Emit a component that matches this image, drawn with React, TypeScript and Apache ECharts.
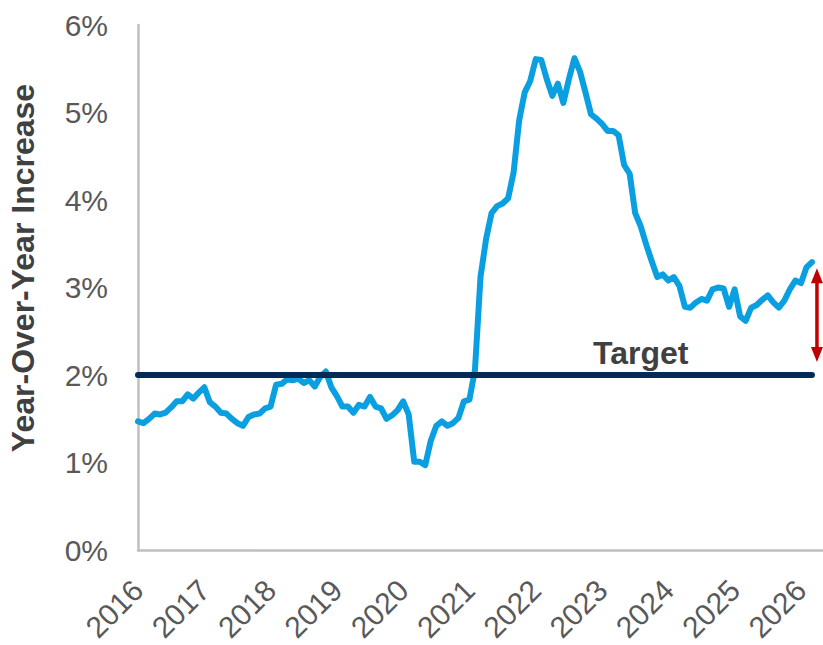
import React, { useEffect, useRef } from "react";
import * as echarts from "echarts";

// Monthly year-over-year increase (%), Jan 2016 onward
const values: number[] = [
  1.47, 1.45, 1.5, 1.56, 1.55, 1.57, 1.63, 1.7, 1.7, 1.78, 1.73, 1.8,
  1.86, 1.69, 1.64, 1.57, 1.56, 1.5, 1.45, 1.42, 1.52, 1.55, 1.56, 1.62,
  1.64, 1.89, 1.9, 1.95, 1.94, 1.96, 1.91, 1.94, 1.87, 1.98, 2.04, 1.86,
  1.76, 1.64, 1.64, 1.57, 1.66, 1.64, 1.75, 1.64, 1.62, 1.5, 1.54, 1.6,
  1.7, 1.55, 1.01, 1.01, 0.97, 1.25, 1.42, 1.47, 1.42, 1.45, 1.51, 1.7,
  1.72, 2.06, 3.12, 3.55, 3.85, 3.93, 3.96, 4.02, 4.32, 4.91, 5.23, 5.36,
  5.61, 5.6, 5.38, 5.19, 5.33, 5.11, 5.38, 5.62, 5.47, 5.23, 4.98, 4.93,
  4.87, 4.79, 4.79, 4.74, 4.4, 4.3, 3.85, 3.7, 3.49, 3.3, 3.12, 3.15,
  3.08, 3.12, 3.02, 2.78, 2.77, 2.83, 2.87, 2.85, 2.98, 3.0, 2.99, 2.78,
  2.98, 2.67, 2.62, 2.77, 2.8, 2.86, 2.91, 2.83, 2.77, 2.85, 2.98, 3.08,
  3.05, 3.23, 3.29,
];

const TARGET = 2;
const TARGET_LABEL = "Target";
const Y_TITLE = "Year-Over-Year Increase";
const START_YEAR = 2016;
const AXIS_MONTHS = 125; // axis runs a little past the last observation

const categories: string[] = [];
for (let i = 0; i < AXIS_MONTHS; i++) {
  const y = START_YEAR + Math.floor(i / 12);
  const m = (i % 12) + 1;
  categories.push(`${y}-${m < 10 ? "0" + m : m}`);
}
const targetValues: number[] = values.map(() => TARGET);

const FONT = "'Liberation Sans', Arial, sans-serif";

export default function App() {
  const ref = useRef<HTMLDivElement>(null);
  useEffect(() => {
    if (!ref.current) return;
    const chart = echarts.init(ref.current, undefined, { renderer: "svg" });
    chart.setOption({
      animation: false,
      textStyle: { fontFamily: FONT },
      grid: { left: 138, right: 0, top: 25, bottom: 90, containLabel: false },
      xAxis: {
        type: "category",
        data: categories,
        boundaryGap: false,
        axisLine: { show: true, lineStyle: { color: "#bfbfbf", width: 2.5 } },
        axisTick: { show: false },
        splitLine: { show: false },
        axisLabel: {
          interval: (i: number) => i % 12 === 0,
          formatter: (v: string) => v.slice(0, 4),
          rotate: 45,
          margin: 35,
          fontSize: 30,
          color: "#595959",
          fontFamily: FONT,
        },
      },
      yAxis: {
        type: "value",
        min: 0,
        max: 6,
        interval: 1,
        axisLine: { show: true, lineStyle: { color: "#bfbfbf", width: 2.5 } },
        axisTick: { show: false },
        splitLine: { show: false },
        axisLabel: {
          formatter: "{value}%",
          margin: 30,
          fontSize: 30,
          color: "#595959",
          fontFamily: FONT,
        },
      },
      series: [
        {
          type: "line",
          data: values,
          showSymbol: false,
          symbol: "none",
          lineStyle: { color: "#0a9fe0", width: 6, join: "round", cap: "round" },
          z: 2,
        },
        {
          type: "line",
          data: targetValues,
          showSymbol: false,
          symbol: "none",
          lineStyle: { color: "#032b55", width: 6, cap: "round" },
          z: 3,
        },
      ],
    });

    const last = values.length - 1;
    const lastPt = chart.convertToPixel({ xAxisIndex: 0, yAxisIndex: 0 }, [last, values[last]]) as number[];
    const tgtPt = chart.convertToPixel({ xAxisIndex: 0, yAxisIndex: 0 }, [91, TARGET]) as number[];
    const ax = lastPt[0] + 5;
    const top = lastPt[1] + 6;
    const bottom = tgtPt[1] - 13;
    const hw = 6;
    const hh = 15;
    const red = "#c00000";

    chart.setOption({
      graphic: [
        {
          type: "text",
          x: 23,
          y: 268,
          rotation: Math.PI / 2,
          style: {
            text: Y_TITLE,
            fontSize: 32,
            fontWeight: "bold",
            fontFamily: FONT,
            fill: "#404040",
            align: "center",
            verticalAlign: "middle",
            textAlign: "center",
            textVerticalAlign: "middle",
          },
        },
        {
          type: "text",
          x: tgtPt[0],
          y: tgtPt[1] - 22,
          style: {
            text: TARGET_LABEL,
            fontSize: 32,
            fontWeight: "bold",
            fontFamily: FONT,
            fill: "#404040",
            align: "center",
            verticalAlign: "middle",
            textAlign: "center",
            textVerticalAlign: "middle",
          },
        },
        {
          type: "line",
          shape: { x1: ax, y1: top + hh - 2, x2: ax, y2: bottom - hh + 2 },
          style: { stroke: red, lineWidth: 3.5 },
        },
        {
          type: "polygon",
          shape: { points: [[ax, top], [ax - hw, top + hh], [ax + hw, top + hh]] },
          style: { fill: red },
        },
        {
          type: "polygon",
          shape: { points: [[ax, bottom], [ax - hw, bottom - hh], [ax + hw, bottom - hh]] },
          style: { fill: red },
        },
      ],
    });

    return () => chart.dispose();
  }, []);
  return (
    <div
      ref={ref}
      style={{ position: "fixed", left: 0, top: 0, width: 823, height: 645, background: "#fff" }}
    />
  );
}
